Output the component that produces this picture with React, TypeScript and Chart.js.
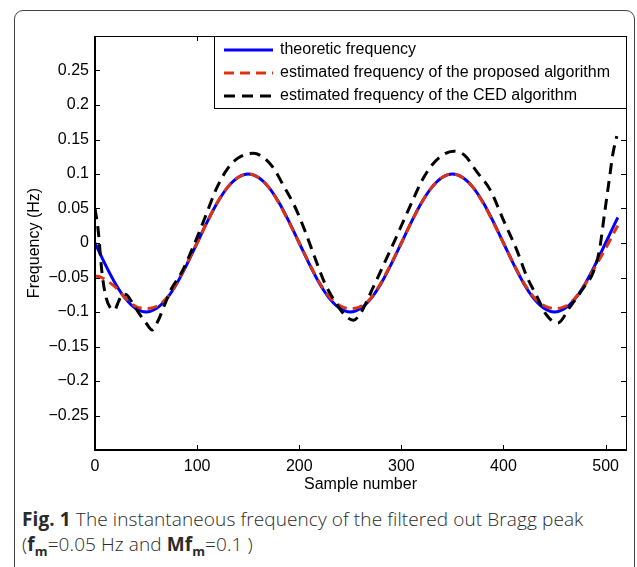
import React, { useEffect, useRef } from 'react';
import { Chart, registerables } from 'chart.js';

Chart.register(...registerables);

// ---- data ----
const seriesLabels = [
  'theoretic frequency',
  'estimated frequency of the proposed algorithm',
  'estimated frequency of the CED algorithm',
];

const theoX = [0, 10, 20, 30, 40, 50, 60, 70, 80, 90, 100, 110, 120, 130, 140, 150, 160, 170, 180, 190, 200,
  210, 220, 230, 240, 250, 260, 270, 280, 290, 300, 310, 320, 330, 340, 350, 360, 370, 380, 390, 400,
  410, 420, 430, 440, 450, 460, 470, 480, 490, 500, 510, 512];
const theoY = [0, -0.031, -0.059, -0.081, -0.095, -0.1, -0.095, -0.081, -0.059, -0.031, 0,
  0.031, 0.059, 0.081, 0.095, 0.1, 0.095, 0.081, 0.059, 0.031, 0,
  -0.031, -0.059, -0.081, -0.095, -0.1, -0.095, -0.081, -0.059, -0.031, 0,
  0.031, 0.059, 0.081, 0.095, 0.1, 0.095, 0.081, 0.059, 0.031, 0,
  -0.031, -0.059, -0.081, -0.095, -0.1, -0.095, -0.081, -0.059, -0.031, 0, 0.031, 0.037];

const propX = [0, 5, 10, 20, 30, 40, 50, 60, 70, 80, 90, 100, 110, 120, 130, 140, 150, 160, 170, 180, 190, 200,
  210, 220, 230, 240, 250, 260, 270, 280, 290, 300, 310, 320, 330, 340, 350, 360, 370, 380, 390, 400,
  410, 420, 430, 440, 450, 460, 470, 480, 490, 500, 510, 512];
const propY = [-0.048, -0.049, -0.053, -0.064, -0.08, -0.092, -0.095, -0.092, -0.08, -0.058, -0.03, 0,
  0.031, 0.059, 0.081, 0.095, 0.1, 0.095, 0.081, 0.058, 0.03, 0,
  -0.03, -0.058, -0.079, -0.091, -0.095, -0.092, -0.08, -0.058, -0.03, 0,
  0.031, 0.059, 0.081, 0.095, 0.1, 0.095, 0.081, 0.058, 0.03, 0,
  -0.03, -0.058, -0.079, -0.091, -0.095, -0.092, -0.08, -0.06, -0.034, -0.008, 0.02, 0.025];

const cedX = [0, 3, 7, 11, 15, 19, 23, 27, 31, 35, 40, 45, 50, 56, 62, 68, 75, 85, 96, 108, 119, 129, 140, 155,
  165, 175, 185, 195, 205, 215, 225, 235, 245, 253, 260, 270, 280, 290, 300, 310, 320, 330, 340, 351,
  362, 374, 387, 400, 413, 423, 433, 442, 453, 465, 478, 488, 494, 499, 504, 507, 511];
const cedY = [0.05, 0.02, -0.045, -0.08, -0.094, -0.097, -0.085, -0.074, -0.075, -0.083, -0.095, -0.106, -0.116, -0.126,
  -0.112, -0.09, -0.066, -0.042, -0.006, 0.038, 0.079, 0.106, 0.123, 0.13,
  0.124, 0.108, 0.082, 0.055, 0.02, -0.02, -0.058, -0.085, -0.105, -0.112, -0.102, -0.072, -0.04, -0.008,
  0.025, 0.058, 0.09, 0.113, 0.127, 0.133,
  0.127, 0.103, 0.077, 0.033, -0.01, -0.049, -0.078, -0.104, -0.116, -0.093, -0.066, -0.042, -0.01,
  0.043, 0.096, 0.128, 0.155];

const xTicks = [0, 100, 200, 300, 400, 500];
const yTicks = [-0.25, -0.2, -0.15, -0.1, -0.05, 0, 0.05, 0.1, 0.15, 0.2, 0.25];

const toPoints = (xs: number[], ys: number[]) => xs.map((x, i) => ({ x, y: ys[i] }));

const FONT = '"Liberation Sans", Arial, Helvetica, sans-serif';
const FSIZE = 16;

const fmtTick = (v: number) => (v === 0 ? '0' : (v < 0 ? '\u2212' : '') + String(Math.abs(v)));

const frameAndLegend = {
  id: 'frameAndLegend',
  afterDraw(chart: any) {
    const { ctx, chartArea, scales } = chart;
    const { left, right, top, bottom } = chartArea;
    const xs = scales.x;
    const ys = scales.y;
    ctx.save();
    ctx.strokeStyle = '#000';
    // inward ticks on all four sides
    ctx.lineWidth = 1;
    ctx.beginPath();
    xTicks.forEach((v) => {
      const px = Math.round(xs.getPixelForValue(v)) + 0.5;
      ctx.moveTo(px, bottom);
      ctx.lineTo(px, bottom - 5);
      ctx.moveTo(px, top);
      ctx.lineTo(px, top + 5);
    });
    yTicks.forEach((v) => {
      const py = Math.round(ys.getPixelForValue(v)) + 0.5;
      ctx.moveTo(left, py);
      ctx.lineTo(left + 5, py);
      ctx.moveTo(right, py);
      ctx.lineTo(right - 5, py);
    });
    ctx.stroke();
    // box
    ctx.beginPath();
    ctx.lineWidth = 1;
    ctx.moveTo(left, top + 0.5);
    ctx.lineTo(right + 0.5, top + 0.5);
    ctx.lineTo(right + 0.5, bottom);
    ctx.stroke();
    ctx.beginPath();
    ctx.lineWidth = 2;
    ctx.moveTo(left, top);
    ctx.lineTo(left, bottom);
    ctx.lineTo(right + 1, bottom);
    ctx.stroke();

    // legend (MATLAB style, inside top-right)
    const lgLeft = 214;
    const lgTop = top;
    const lgRight = right;
    const lgBottom = 108;
    ctx.fillStyle = '#fff';
    ctx.fillRect(lgLeft, lgTop, lgRight - lgLeft, lgBottom - lgTop);
    ctx.lineWidth = 1;
    ctx.strokeStyle = '#000';
    ctx.strokeRect(lgLeft + 0.5, lgTop + 0.5, lgRight - lgLeft, lgBottom - lgTop);
    const rows = [50, 73, 96];
    chart.data.datasets.forEach((ds: any, i: number) => {
      const yy = rows[i];
      ctx.save();
      ctx.strokeStyle = ds.borderColor;
      ctx.lineWidth = ds.borderWidth;
      ctx.setLineDash(ds.borderDash || []);
      ctx.beginPath();
      ctx.moveTo(224, yy);
      ctx.lineTo(273, yy);
      ctx.stroke();
      ctx.restore();
      ctx.fillStyle = '#000';
      ctx.font = FSIZE + 'px ' + FONT;
      ctx.textBaseline = 'middle';
      ctx.textAlign = 'left';
      ctx.fillText(ds.label, 280, yy);
    });
    ctx.restore();
  },
};

export default function App() {
  const ref = useRef<HTMLCanvasElement>(null);

  useEffect(() => {
    document.body.style.margin = '0';
    const canvas = ref.current!;
    const chart = new Chart(canvas, {
      type: 'line',
      data: {
        datasets: [
          {
            label: seriesLabels[0],
            data: toPoints(theoX, theoY),
            borderColor: '#0000ff',
            borderWidth: 3,
            pointRadius: 0,
            cubicInterpolationMode: 'monotone',
            order: 2,
          },
          {
            label: seriesLabels[1],
            data: toPoints(propX, propY),
            borderColor: '#dd3311',
            borderWidth: 3,
            borderDash: [10, 6],
            pointRadius: 0,
            cubicInterpolationMode: 'monotone',
            order: 1,
          },
          {
            label: seriesLabels[2],
            data: toPoints(cedX, cedY),
            borderColor: '#000000',
            borderWidth: 3,
            borderDash: [11, 7],
            pointRadius: 0,
            cubicInterpolationMode: 'monotone',
            order: 0,
          },
        ],
      },
      options: {
        animation: false,
        responsive: false,
        devicePixelRatio: 1,
        layout: { padding: { left: 0, right: 11, top: 36, bottom: 0 } },
        plugins: { legend: { display: false }, tooltip: { enabled: false } },
        scales: {
          x: {
            type: 'linear',
            min: 0,
            max: 520,
            afterBuildTicks: (s: any) => {
              s.ticks = xTicks.map((v) => ({ value: v }));
            },
            afterFit: (s: any) => {
              s.height = 50;
            },
            grid: { display: false, drawTicks: false },
            border: { display: false },
            ticks: {
              autoSkip: false,
              maxRotation: 0,
              padding: 7,
              color: '#000',
              font: { family: FONT, size: FSIZE },
              callback: (v: any) => String(v),
            },
            title: {
              display: true,
              text: 'Sample number',
              color: '#000',
              font: { family: FONT, size: FSIZE },
              padding: { top: 0, bottom: 6 },
            },
          },
          y: {
            type: 'linear',
            min: -0.3,
            max: 0.3,
            afterBuildTicks: (s: any) => {
              s.ticks = yTicks.map((v) => ({ value: v }));
            },
            afterFit: (s: any) => {
              s.width = 95;
            },
            grid: { display: false, drawTicks: false },
            border: { display: false },
            ticks: {
              autoSkip: false,
              padding: 6,
              color: '#000',
              font: { family: FONT, size: FSIZE },
              callback: (v: any) => fmtTick(Number(v)),
            },
            title: {
              display: true,
              text: 'Frequency (Hz)',
              color: '#000',
              font: { family: FONT, size: FSIZE },
              padding: { top: 25, bottom: 0 },
            },
          },
        },
      },
      plugins: [frameAndLegend],
    } as any);
    return () => chart.destroy();
  }, []);

  return (
    <div
      style={{
        position: 'fixed',
        left: 0,
        top: 0,
        width: 637,
        height: 567,
        overflow: 'hidden',
        background: '#fff',
      }}
    >
      <div
        style={{
          position: 'absolute',
          left: 14,
          top: 10,
          width: 621,
          height: 620,
          border: '1px solid #444',
          borderRadius: 9,
          boxSizing: 'border-box',
        }}
      />
      <canvas ref={ref} width={637} height={500} style={{ position: 'absolute', left: 0, top: 0 }} />
      <div
        style={{
          position: 'absolute',
          left: 22,
          top: 507,
          fontFamily: '"Open Sans", "Noto Sans", sans-serif',
          fontSize: 19,
          letterSpacing: '0.1px',
          lineHeight: '25px',
          color: '#2a2a2a',
          whiteSpace: 'nowrap',
          fontWeight: 300,
        }}
      >
        <b style={{ fontWeight: 700 }}>Fig. 1</b> The instantaneous frequency of the filtered out Bragg peak
        <br />(
        <b style={{ fontWeight: 700 }}>
          f<sub style={{ fontSize: 13, lineHeight: 0 }}>m</sub>
        </b>
        =0.05 Hz and{' '}
        <b style={{ fontWeight: 700 }}>
          Mf<sub style={{ fontSize: 13, lineHeight: 0 }}>m</sub>
        </b>
        =0.1 )
      </div>
    </div>
  );
}
